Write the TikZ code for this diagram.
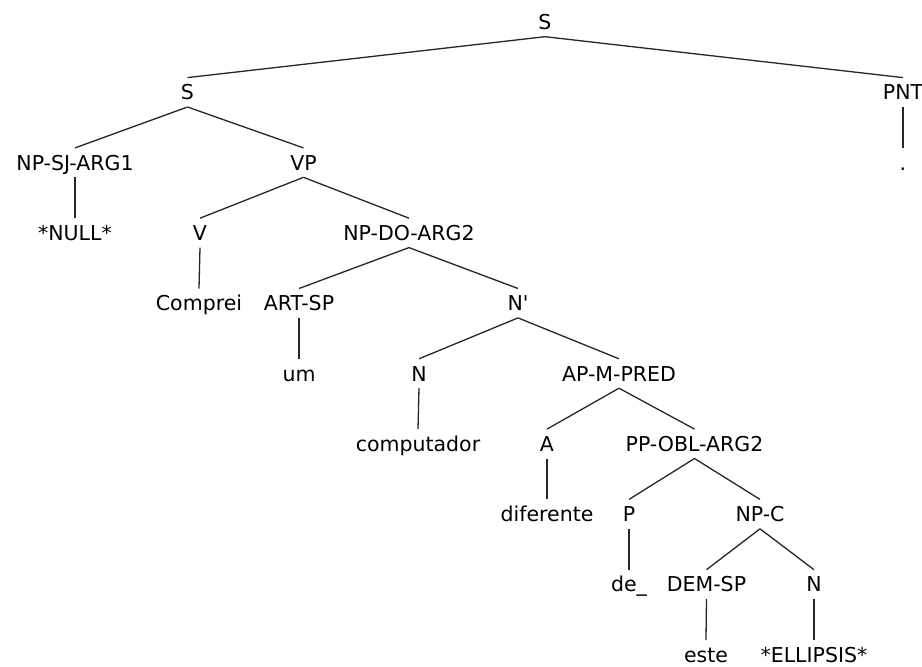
\documentclass[tikz,border=0pt]{standalone}
\usepackage{fontspec}
\setmainfont{DejaVu Sans}

\begin{document}
\begin{tikzpicture}[x=1pt,y=-1pt,
  cat/.style={font=\fontsize{20.5}{24}\selectfont, inner sep=0pt,
    text height=15pt, text depth=0pt, minimum height=29pt},
  branch/.style={draw=black!85, line width=1.3pt}]
  \useasboundingbox (0,0) rectangle (922,667);

  \node[cat] (s0)   at (545,22)    {S};
  \node[cat] (s1)   at (187.5,92.3) {S};
  \node[cat] (pnt)  at (903,92.3)  {PNT};
  \node[cat] (npsj) at (75,162.6)  {NP-SJ-ARG1};
  \node[cat] (vp)   at (303.5,162.6) {VP};
  \node[cat] (dot)  at (903,162.6) {.};
  \node[cat] (null) at (75,232.9)  {*NULL*};
  \node[cat] (v)    at (200,232.9) {V};
  \node[cat] (npdo) at (409,232.9) {NP-DO-ARG2};
  \node[cat] (comp) at (199,303.2) {Comprei};
  \node[cat] (art)  at (299,303.2) {ART-SP};
  \node[cat] (nbar) at (518,303.2) {N\textquotesingle};
  \node[cat] (um)   at (299,373.5) {um};
  \node[cat] (n1)   at (419,373.5) {N};
  \node[cat] (apm)  at (619,373.5) {AP-M-PRED};
  \node[cat] (cmp)  at (418,443.8) {computador};
  \node[cat] (a)    at (547,443.8) {A};
  \node[cat] (ppo)  at (694.5,443.8) {PP-OBL-ARG2};
  \node[cat] (dif)  at (547,514.1) {diferente};
  \node[cat] (p)    at (629,514.1) {P};
  \node[cat] (npc)  at (760,514.1) {NP-C};
  \node[cat] (de)   at (629,584.4) {de\_};
  \node[cat] (dem)  at (706.5,584.4) {DEM-SP};
  \node[cat] (n2)   at (814,584.4) {N};
  \node[cat] (este) at (706,654.7) {este};
  \node[cat] (ell)  at (814,654.7) {*ELLIPSIS*};

  \foreach \p/\c in {s0/s1, s0/pnt, s1/npsj, s1/vp, pnt/dot, npsj/null,
      vp/v, vp/npdo, v/comp, npdo/art, npdo/nbar, art/um, nbar/n1,
      nbar/apm, n1/cmp, apm/a, apm/ppo, a/dif, ppo/p, ppo/npc, p/de,
      npc/dem, npc/n2, dem/este, n2/ell}
    \draw[branch] (\p.south) -- (\c.north);
\end{tikzpicture}
\end{document}
